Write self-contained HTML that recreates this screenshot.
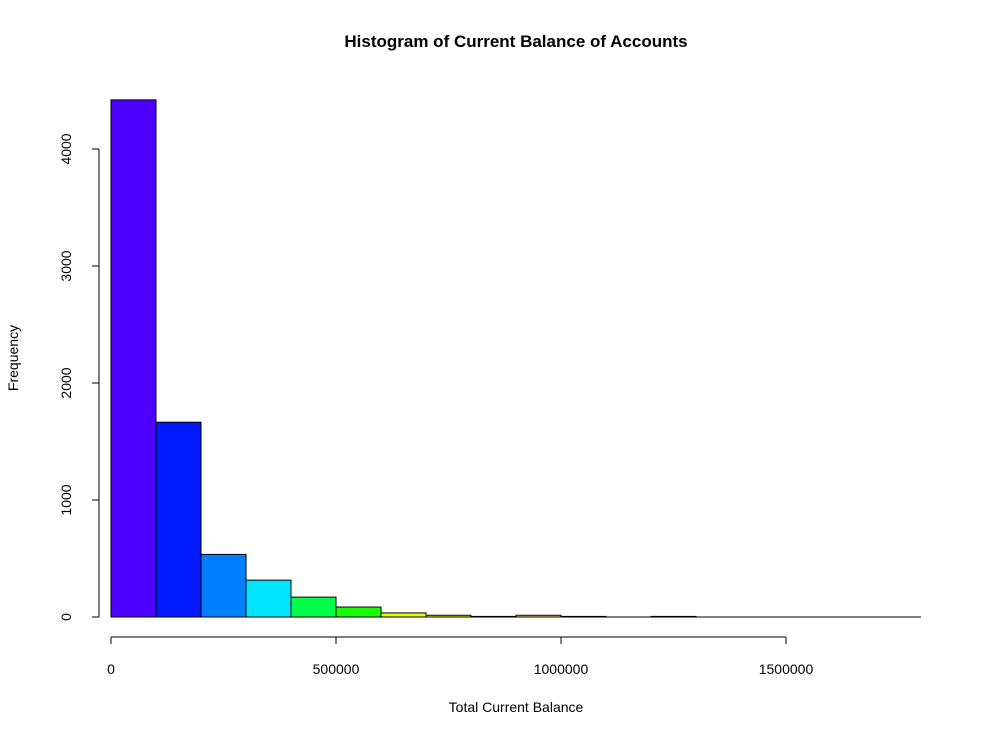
<!DOCTYPE html>
<html><head><meta charset="utf-8"><style>
body{margin:0;background:#fff}
text{font-family:"Liberation Sans",Arial,sans-serif}
</style></head><body>
<svg id="chart" width="994" height="736" xmlns="http://www.w3.org/2000/svg">
<text x="516" y="47" text-anchor="middle" font-size="17" font-weight="bold">Histogram of Current Balance of Accounts</text>
<text x="516" y="712" text-anchor="middle" font-size="14">Total Current Balance</text>
<text transform="translate(18,358) rotate(-90)" text-anchor="middle" font-size="14">Frequency</text>
<g id="bars"></g><g id="axes"></g>
</svg>
<script>
const binStarts=[0,100000,200000,300000,400000,500000,600000,700000,800000,900000,1000000,1100000,1200000,1300000,1400000,1500000,1600000,1700000];
const counts=[4420,1665,535,315,170,85,35,15,5,15,5,0,5,0,0,0,0,0];
const binColors=["#4C00FF","#0019FF","#0080FF","#00E5FF","#00FF4D","#1AFF00","#E6FF00","#FFFF00","#FFE53B","#FFDB77","#FFE0B3","#FFE6CC","#FFECD9","#FFF2E6","#FFF5EE","#FFF8F2","#FFFAF6","#FFFDFA"];
const xTicks=[0,500000,1000000,1500000];
const yTicks=[0,1000,2000,3000,4000];
const binWidth=100000;
const NS="http://www.w3.org/2000/svg";
const xs=v=>111+v*225/500000;
const ys=v=>617-v*0.117;
function mk(t,a,p){const e=document.createElementNS(NS,t);for(const k in a)e.setAttribute(k,a[k]);p.appendChild(e);return e;}
const bars=document.getElementById('bars'),axes=document.getElementById('axes');
binStarts.forEach((b,i)=>{
  let r;
  if(counts[i]===0){
    r=mk('line',{x1:xs(b),x2:xs(b+binWidth),y1:ys(0),y2:ys(0),stroke:'#000','stroke-width':1},bars);
  } else {
    r=mk('rect',{x:xs(b),y:ys(counts[i]),width:xs(b+binWidth)-xs(b),height:ys(0)-ys(counts[i]),fill:binColors[i],stroke:'#000','stroke-width':1},bars);
  }
  
  
});
const xl=mk('line',{x1:xs(xTicks[0]),x2:xs(xTicks[xTicks.length-1]),y1:637,y2:637,stroke:'#000'},axes);


xTicks.forEach(t=>{
  mk('line',{x1:xs(t),x2:xs(t),y1:637,y2:644,stroke:'#000'},axes);
  const tx=mk('text',{x:xs(t),y:674,'text-anchor':'middle','font-size':14},axes);tx.textContent=t;
  
  
});
const yl=mk('line',{x1:99,x2:99,y1:ys(yTicks[0]),y2:ys(yTicks[yTicks.length-1]),stroke:'#000'},axes);


yTicks.forEach(t=>{
  mk('line',{x1:92,x2:99,y1:ys(t),y2:ys(t),stroke:'#000'},axes);
  const tx=mk('text',{transform:`translate(71,${ys(t)}) rotate(-90)`,'text-anchor':'middle','font-size':14},axes);tx.textContent=t;
  
  
});
</script>
</body></html>
